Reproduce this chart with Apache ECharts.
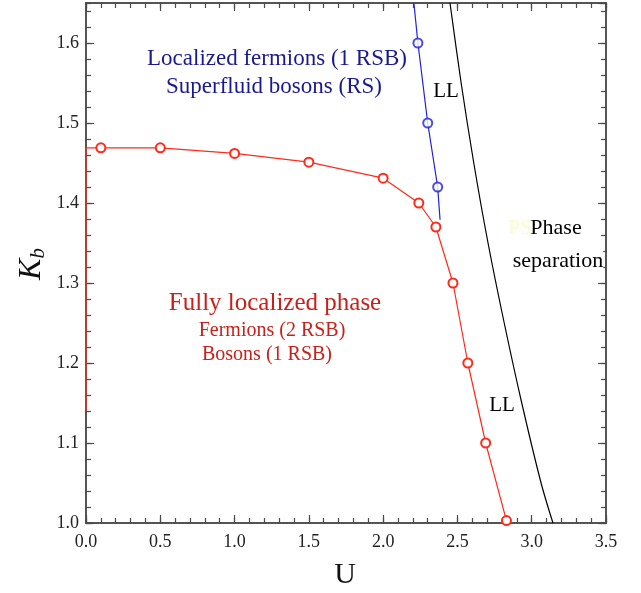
<!DOCTYPE html>
<html>
<head>
<meta charset="utf-8">
<script src="https://cdn.jsdelivr.net/npm/echarts@6/dist/echarts.min.js"></script>
<style>
  html, body { margin: 0; padding: 0; background: #fff; }
  #chart { width: 641px; height: 593px; }
</style>
</head>
<body>
<div id="chart"></div>
<script>
// fully localized / LL boundary (red), circles
var redU = [0.1, 0.5, 1.0, 1.5, 2.0, 2.24, 2.355, 2.47, 2.57, 2.69, 2.83];
var redK = [1.469, 1.469, 1.462, 1.451, 1.431, 1.40, 1.37, 1.30, 1.20, 1.10, 1.003];
// red piece running along the left edge
var redEdgeU = [0.0, 0.0, 0.1];
var redEdgeK = [1.14, 1.469, 1.469];
// blue boundary: line and circles
var blueLineU = [2.207, 2.234, 2.30, 2.367, 2.383];
var blueLineK = [1.65, 1.60, 1.50, 1.42, 1.379];
var blueU = [2.234, 2.30, 2.367];
var blueK = [1.60, 1.50, 1.42];
// black LL / phase separation boundary
var blackU = [2.45, 2.525, 2.61, 2.706, 2.815, 2.933, 3.063, 3.143];
var blackK = [1.65, 1.55, 1.45, 1.35, 1.25, 1.15, 1.05, 1.0];

var xMin = 0, xMax = 3.5, yMin = 1.0, yMax = 1.65;

function zip(a, b) {
  return a.map(function (v, i) { return [v, b[i]]; });
}

var chart = echarts.init(document.getElementById('chart'));

var serif = '"Liberation Serif", "DejaVu Serif", serif';
var axisCol = '#4a4a4a';

// one helper for the frame axes, major and minor ticks are separate axes
function xAx(pos, interval, len, labels) {
  return {
    type: 'value', position: pos, min: xMin, max: xMax, interval: interval,
    axisLine: { show: true, onZero: false, lineStyle: { color: axisCol, width: 1.5 } },
    axisTick: { show: true, inside: true, length: len, lineStyle: { color: axisCol, width: 1.2 } },
    axisLabel: {
      show: labels, margin: 10, color: '#222', fontFamily: serif, fontSize: 18,
      formatter: function (v) { return v.toFixed(1); }
    },
    splitLine: { show: false }
  };
}
function yAx(pos, interval, len, labels) {
  return {
    type: 'value', position: pos, min: yMin, max: yMax, interval: interval,
    axisLine: { show: true, onZero: false, lineStyle: { color: axisCol, width: 1.5 } },
    axisTick: { show: true, inside: true, length: len, lineStyle: { color: axisCol, width: 1.2 } },
    axisLabel: {
      show: labels, margin: 7, color: '#222', fontFamily: serif, fontSize: 18,
      showMaxLabel: false,
      formatter: function (v) { return v.toFixed(1); }
    },
    splitLine: { show: false }
  };
}

function txt(s, x, y, size, color, extra) {
  var o = {
    type: 'text', x: x, y: y, z: 100,
    style: {
      text: s, fill: color, font: size + 'px ' + serif,
      textAlign: 'center', textVerticalAlign: 'middle'
    }
  };
  if (extra) Object.assign(o.style, extra);
  return o;
}

var option = {
  backgroundColor: '#fff',
  animation: false,
  grid: { left: 86, right: 35, top: 3, bottom: 70, containLabel: false },
  xAxis: [
    xAx('bottom', 0.5, 8, true),
    xAx('bottom', 0.1, 5, false),
    xAx('top', 0.5, 8, false),
    xAx('top', 0.1, 5, false)
  ],
  yAxis: [
    yAx('left', 0.1, 8, true),
    yAx('left', 0.02, 5, false),
    yAx('right', 0.1, 8, false),
    yAx('right', 0.02, 5, false)
  ],
  series: [
    {
      type: 'line', data: zip(redEdgeU, redEdgeK), symbol: 'none', clip: false,
      lineStyle: { color: '#ff2a1a', width: 1.2 }
    },
    {
      type: 'line', data: zip(redU, redK), symbol: 'emptyCircle', symbolSize: 9,
      lineStyle: { color: '#ff2a1a', width: 1.2 },
      itemStyle: { color: '#ff2a1a', borderColor: '#ff2a1a', borderWidth: 1.2 }
    },
    {
      type: 'line', data: zip(blueLineU, blueLineK), symbol: 'none',
      lineStyle: { color: '#2020e0', width: 1.2 }
    },
    {
      type: 'scatter', data: zip(blueU, blueK), symbol: 'emptyCircle', symbolSize: 9, z: 5,
      itemStyle: { color: '#2020e0', borderColor: '#2020e0', borderWidth: 1.2 }
    },
    {
      type: 'line', data: zip(blackU, blackK), symbol: 'none', smooth: 0.3,
      lineStyle: { color: '#000', width: 1.2 }
    }
  ],
  graphic: [
    txt('Localized fermions (1 RSB)', 277, 59, 23, '#1a1a90'),
    txt('Superfluid bosons (RS)', 274, 87, 23, '#1a1a90'),
    txt('LL', 446, 91, 21, '#000'),
    txt('PS', 520, 228, 21, '#fbfbcc'),
    txt('Phase', 556, 228, 22, '#000'),
    txt('separation', 558, 261, 22, '#000', { backgroundColor: '#fff' }),
    txt('Fully localized phase', 275, 303, 25, '#c8201a'),
    txt('Fermions (2 RSB)', 272, 331, 20, '#c8201a'),
    txt('Bosons (1 RSB)', 267, 355, 20, '#c8201a'),
    txt('LL', 502, 405, 21, '#000'),
    txt('U', 345, 575, 30, '#111'),
    {
      type: 'text', x: 32, y: 264, rotation: Math.PI / 2, z: 100,
      style: {
        text: '{k|K}{b|b}', textAlign: 'center', textVerticalAlign: 'middle',
        rich: {
          k: { font: 'italic 32px ' + serif, fill: '#111', color: '#111' },
          b: { font: 'italic 21px ' + serif, fill: '#111', color: '#111', padding: [12, 0, 0, 0] }
        }
      }
    }
  ]
};

chart.setOption(option);
</script>
</body>
</html>
